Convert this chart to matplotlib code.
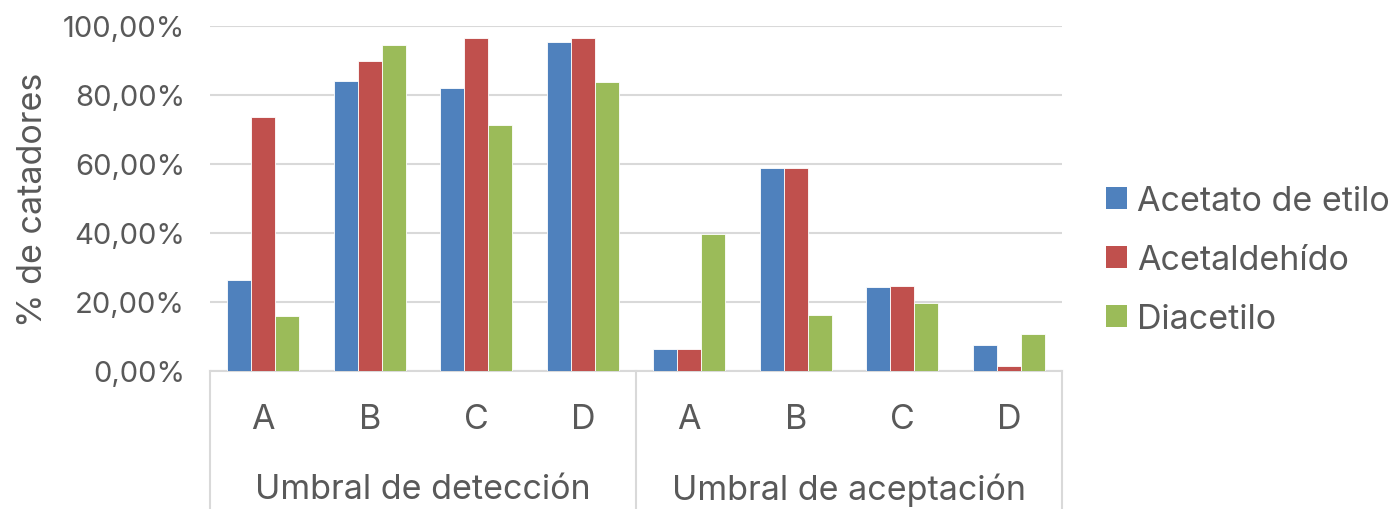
import numpy as np
import matplotlib.pyplot as plt
from matplotlib.patches import Patch

# Data
groups = ["Umbral de detección", "Umbral de aceptación"]
letters = ["A", "B", "C", "D"]
series = ["Acetato de etilo", "Acetaldehído", "Diacetilo"]
acetato = [26.5, 84.2, 82.1, 95.4, 6.5, 58.8, 24.3, 7.6]
acetaldehido = [73.6, 89.9, 96.5, 96.5, 6.5, 58.9, 24.5, 1.5]
diacetilo = [15.9, 94.5, 71.2, 83.7, 39.8, 16.2, 19.8, 10.7]

colors = ["#4F81BD", "#C0504D", "#9BBB59"]
text_color = "#595959"
grid_color = "#D9D9D9"

plt.rcParams["font.family"] = ["Inter", "DejaVu Sans"]

fig = plt.figure(figsize=(13.94, 5.10), dpi=100)
ax = fig.add_axes([210 / 1394, 1 - 372 / 510, 852 / 1394, 345 / 510])

x = np.arange(len(acetato))
w = 0.225
for i, vals in enumerate([acetato, acetaldehido, diacetilo]):
    ax.bar(x + (i - 1) * w, np.array(vals) / 100, width=w, color=colors[i],
           edgecolor="white", linewidth=0.6, zorder=3)

ax.set_xlim(-0.5, len(acetato) - 0.5)
ax.set_ylim(0, 1.0)
ax.set_yticks(np.arange(0, 1.01, 0.2))
ax.set_yticklabels([f"{v:.2f}%".replace(".", ",") for v in np.arange(0, 101, 20)],
                   fontsize=21, color=text_color)
ax.tick_params(axis="y", length=0, pad=18)
ax.set_xticks([])
ax.grid(axis="y", color=grid_color, linewidth=1.5, zorder=0)
for s in ["top", "right", "left"]:
    ax.spines[s].set_visible(False)
ax.spines["bottom"].set_color(grid_color)
ax.spines["bottom"].set_linewidth(1.5)

ax.set_ylabel("% de catadores", fontsize=24.5, color=text_color, labelpad=10)

# Multi-level category axis
tr = ax.get_xaxis_transform()
for xv in [-0.5, 3.5, 7.5]:
    ax.plot([xv, xv], [0, -0.42], transform=tr, color=grid_color, lw=1.5, clip_on=False)
for k in range(len(acetato)):
    ax.text(k, -0.139, letters[k % 4], transform=tr, ha="center", va="center",
            fontsize=24.5, color=text_color)
for g, name in enumerate(groups):
    ax.text(1.5 + 4 * g, -0.342, name, transform=tr, ha="center", va="center",
            fontsize=24.5, color=text_color)

handles = [Patch(facecolor=c, edgecolor="none") for c in colors]
fig.legend(handles, series, loc="center left", bbox_to_anchor=(1082 / 1394, 1 - 261 / 510),
           frameon=False, fontsize=24.5, labelcolor=text_color, handlelength=0.62,
           handleheight=0.62, handletextpad=0.3, labelspacing=0.8, borderpad=0.2)

fig.savefig("out.png", dpi=100)
